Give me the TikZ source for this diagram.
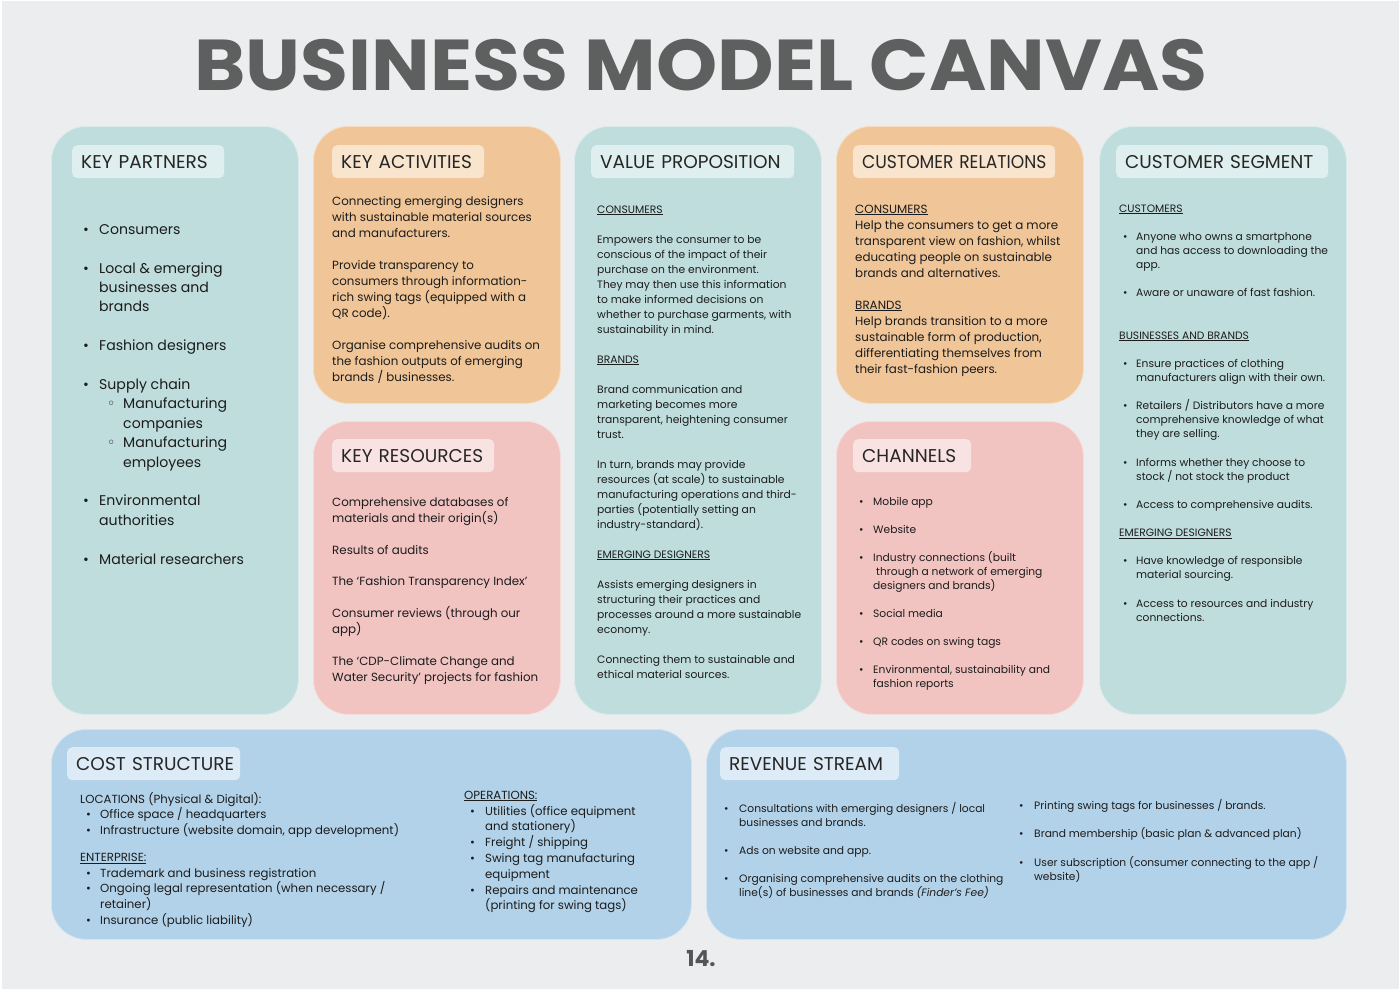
\documentclass[tikz,border=0pt]{standalone}
\usepackage{fontspec}
\setmainfont{Poppins}
\newfontfamily\dv{DejaVu Sans}
\definecolor{bgc}{RGB}{236,237,239}
\definecolor{teal}{RGB}{191,221,221}
\definecolor{teallab}{RGB}{223,238,238}
\definecolor{orng}{RGB}{240,197,151}
\definecolor{orlab}{RGB}{249,228,206}
\definecolor{pnk}{RGB}{241,196,194}
\definecolor{pklab}{RGB}{249,227,226}
\definecolor{blu}{RGB}{178,210,233}
\definecolor{bllab}{RGB}{221,235,246}
\definecolor{titlegray}{RGB}{94,95,95}
\definecolor{txt}{RGB}{28,28,28}
\definecolor{hdr}{RGB}{38,38,38}
\newcommand\st{\rule{0pt}{16pt}}
\newcommand\bul[1]{\makebox[#1][l]{\textbullet}}
\newcommand\ind[1]{\hspace*{#1}}
\newcommand\sub{\hspace*{24pt}\makebox[16pt][l]{\dv ◦}}
\tikzset{
  card/.style={anchor=north west, rounded corners=35pt, inner sep=0pt, draw=#1!60!white, line width=0.8pt, fill=#1},
  lab/.style={anchor=north west, rounded corners=5pt, fill=#1, minimum height=33pt, inner xsep=9pt, inner ysep=0pt,
    text height=13pt, text depth=0pt, align=left, font=\fontsize{18.5}{22}\selectfont, text=hdr},
  body/.style={anchor=north west, inner sep=0pt, align=left, text=txt}
}
\begin{document}
\begin{tikzpicture}[x=1pt,y=-1pt]
\useasboundingbox (0,0) rectangle (1400,990);
\fill[white] (0,0) rectangle (1400,990);
\fill[bgc] (1.5,1.5) rectangle (1398.5,988.5);

\node[font=\fontsize{72}{80}\selectfont\bfseries, text=titlegray, anchor=base, inner sep=0pt] (title) at (701,90) {\scalebox{1.082}[1]{BUSINESS MODEL CANVAS}};

% cards
\node[card=teal, minimum width=247pt, minimum height=588pt] (kp) at (51,126) {};
\node[card=orng, minimum width=247pt, minimum height=277pt] (ka) at (313,126) {};
\node[card=pnk, minimum width=247pt, minimum height=293pt] (kr) at (313,421) {};
\node[card=teal, minimum width=247pt, minimum height=588pt] (vp) at (574,126) {};
\node[card=orng, minimum width=247pt, minimum height=277pt] (cr) at (836,126) {};
\node[card=pnk, minimum width=247pt, minimum height=293pt] (ch) at (836,421) {};
\node[card=teal, minimum width=247pt, minimum height=588pt] (cs) at (1099,126) {};
\node[card=blu, minimum width=640pt, minimum height=210pt] (cost) at (51,729) {};
\node[card=blu, minimum width=640pt, minimum height=210pt] (rev) at (706,729) {};

% labels
\node[lab=teallab, text width=134pt] (kpl) at (72,145) {\mbox{KEY PARTNERS}};
\node[lab=orlab, text width=134pt] (kal) at (332,145) {\mbox{KEY ACTIVITIES}};
\node[lab=teallab, text width=185pt] (vpl) at (591,145) {\mbox{VALUE PROPOSITION}};
\node[lab=orlab, text width=184pt] (crl) at (853,145) {\scalebox{0.925}[1]{CUSTOMER RELATIONS}};
\node[lab=teallab, text width=194pt] (csl) at (1116,145) {\mbox{CUSTOMER SEGMENT}};
\node[lab=pklab, text width=144pt] (krl) at (332,439) {\mbox{KEY RESOURCES}};
\node[lab=pklab, text width=100pt] (chl) at (853,439) {\mbox{CHANNELS}};
\node[lab=bllab, text width=155pt] (costl) at (67,747) {\mbox{COST STRUCTURE}};
\node[lab=bllab, text width=161pt] (revl) at (720,747) {\mbox{REVENUE STREAM}};

% key partners
\node[body, font=\fontsize{14.1}{19.4}\selectfont] (kpt) at (83,218) {\st\bul{16pt}Consumers\\[19.4pt]
\bul{16pt}Local \& emerging\\ \ind{16pt}businesses and\\ \ind{16pt}brands\\[19.4pt]
\bul{16pt}Fashion designers\\[19.4pt]
\bul{16pt}Supply chain\\ \sub Manufacturing\\ \ind{40pt}companies\\ \sub Manufacturing\\ \ind{40pt}employees\\[19.4pt]
\bul{16pt}Environmental\\ \ind{16pt}authorities\\[19.4pt]
\bul{16pt}Material researchers};

% key activities
\node[body, font=\fontsize{11.85}{16}\selectfont] (kat) at (332,189) {\st Connecting emerging designers\\
with sustainable material sources\\ and manufacturers.\\[16pt]
Provide transparency to\\ consumers through information-\\ rich swing tags (equipped with a\\ QR code).\\[16pt]
Organise comprehensive audits on\\ the fashion outputs of emerging\\ brands / businesses.};

% key resources
\node[body, font=\fontsize{11.85}{15.95}\selectfont] (krt) at (332,490) {\st Comprehensive databases of\\ materials and their origin(s)\\[15.95pt]
Results of audits\\[15.95pt]
The ‘Fashion Transparency Index’\\[15.95pt]
Consumer reviews (through our\\ app)\\[15.95pt]
The ‘CDP-Climate Change and\\ Water Security’ projects for fashion};

% value proposition
\node[body, font=\fontsize{10.75}{15}\selectfont] (vpt) at (597,197) {\st\underline{CONSUMERS}\\[15pt]
Empowers the consumer to be\\ conscious of the impact of their\\ purchase on the environment.\\ They may then use this information\\ to make informed decisions on\\ whether to purchase garments, with\\ sustainability in mind.\\[15pt]
\underline{BRANDS}\\[15pt]
Brand communication and\\ marketing becomes more\\ transparent, heightening consumer\\ trust.\\[15pt]
In turn, brands may provide\\ resources (at scale) to sustainable\\ manufacturing operations and third-\\ parties (potentially setting an\\ industry-standard).\\[15pt]
\underline{EMERGING DESIGNERS}\\[15pt]
Assists emerging designers in\\ structuring their practices and\\ processes around a more sustainable\\ economy.\\[15pt]
Connecting them to sustainable and\\ ethical material sources.};

% customer relations
\node[body, font=\fontsize{11.9}{16}\selectfont] (crt) at (855,197) {\st\underline{CONSUMERS}\\ Help the consumers to get a more\\ transparent view on fashion, whilst\\ educating people on sustainable\\ brands and alternatives.\\[16pt]
\underline{BRANDS}\\ Help brands transition to a more\\ sustainable form of production,\\ differentiating themselves from\\ their fast-fashion peers.};

% channels
\node[body, font=\fontsize{10.7}{14}\selectfont] (cht) at (859,489) {\st\bul{14pt}Mobile app\\[14pt]
\bul{14pt}Website\\[14pt]
\bul{14pt}Industry connections (built\\ \ind{17pt}through a network of emerging\\ \ind{14pt}designers and brands)\\[14pt]
\bul{14pt}Social media\\[14pt]
\bul{14pt}QR codes on swing tags\\[14pt]
\bul{14pt}Environmental, sustainability and\\ \ind{14pt}fashion reports};

% customer segment
\node[body, font=\fontsize{10.7}{14.1}\selectfont] (cst) at (1119,196) {\st\underline{CUSTOMERS}\\[14.1pt]
\ind{4pt}\bul{13pt}Anyone who owns a smartphone\\ \ind{17pt}and has access to downloading the\\ \ind{17pt}app.\\[14.1pt]
\ind{4pt}\bul{13pt}Aware or unaware of fast fashion.\\[28.2pt]
\underline{BUSINESSES AND BRANDS}\\[14.1pt]
\ind{4pt}\bul{13pt}Ensure practices of clothing\\ \ind{17pt}manufacturers align with their own.\\[14.1pt]
\ind{4pt}\bul{13pt}Retailers / Distributors have a more\\ \ind{17pt}comprehensive knowledge of what\\ \ind{17pt}they are selling.\\[14.1pt]
\ind{4pt}\bul{13pt}Informs whether they choose to\\ \ind{17pt}stock / not stock the product\\[14.1pt]
\ind{4pt}\bul{13pt}Access to comprehensive audits.\\[14.1pt]
\underline{EMERGING DESIGNERS}\\[14.1pt]
\ind{4pt}\bul{13pt}Have knowledge of responsible\\ \ind{17pt}material sourcing.\\[14.1pt]
\ind{4pt}\bul{13pt}Access to resources and industry\\ \ind{17pt}connections.};

% cost structure
\node[body, font=\fontsize{11.75}{15.7}\selectfont] (costa) at (80,787) {\st LOCATIONS (Physical \& Digital):\\
\ind{6pt}\bul{14pt}Office space / headquarters\\
\ind{6pt}\bul{14pt}Infrastructure (website domain, app development)\\[11pt]
\underline{ENTERPRISE:}\\
\ind{6pt}\bul{14pt}Trademark and business registration\\
\ind{6pt}\bul{14pt}Ongoing legal representation (when necessary /\\ \ind{20pt}retainer)\\
\ind{6pt}\bul{14pt}Insurance (public liability)};
\node[body, font=\fontsize{11.75}{15.8}\selectfont] (costb) at (464,783) {\st\underline{OPERATIONS:}\\
\ind{6pt}\bul{15pt}Utilities (office equipment\\ \ind{21pt}and stationery)\\
\ind{6pt}\bul{15pt}Freight / shipping\\
\ind{6pt}\bul{15pt}Swing tag manufacturing\\ \ind{21pt}equipment\\
\ind{6pt}\bul{15pt}Repairs and maintenance\\ \ind{21pt}(printing for swing tags)};

% revenue stream
\node[body, font=\fontsize{10.7}{14}\selectfont] (reva) at (724,796) {\st\bul{15pt}Consultations with emerging designers / local\\ \ind{15pt}businesses and brands.\\[14pt]
\bul{15pt}Ads on website and app.\\[14pt]
\bul{15pt}Organising comprehensive audits on the clothing\\ \ind{15pt}line(s) of businesses and brands \textit{(Finder’s Fee)}};
\node[body, font=\fontsize{10.7}{14.2}\selectfont] (revb) at (1019,793) {\st\bul{15pt}Printing swing tags for businesses / brands.\\[14.2pt]
\bul{15pt}Brand membership (basic plan \& advanced plan)\\[14.2pt]
\bul{15pt}User subscription (consumer connecting to the app /\\ \ind{15pt}website)};

\node[font=\fontsize{22}{26}\selectfont\bfseries, text=titlegray!90!black, anchor=base, inner sep=0pt] (page) at (701,966) {14.};
\end{tikzpicture}
\end{document}
